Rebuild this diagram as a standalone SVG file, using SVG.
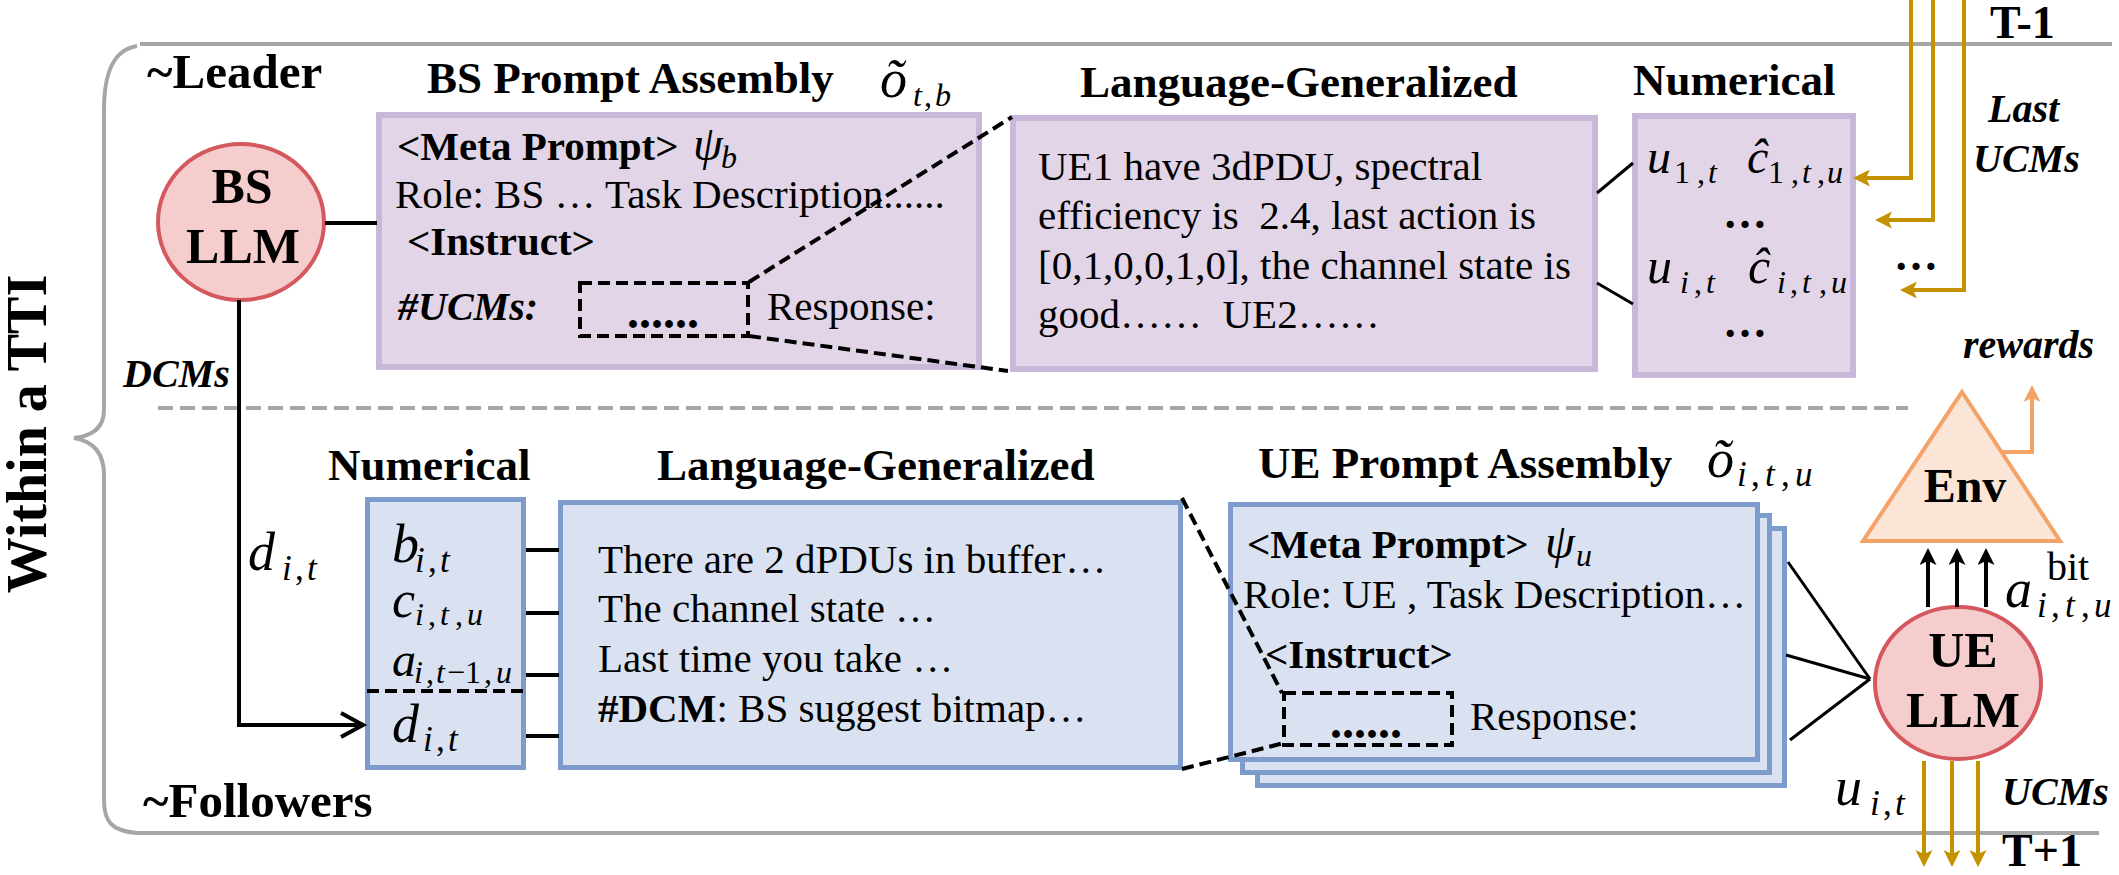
<svg xmlns="http://www.w3.org/2000/svg" width="2119" height="875" viewBox="0 0 2119 875">
<style>
text{font-family:"Liberation Serif","Times New Roman",serif;fill:#000}
.h{font-size:45px;font-weight:bold}
.big{font-size:49px;font-weight:bold}
.llmt{font-size:50px;font-weight:bold}
.b{font-size:41px}
.bb{font-size:41px;font-weight:bold}
.bi{font-size:40px;font-weight:bold;font-style:italic}
.mi{font-style:italic}
.up{font-style:normal}
.s{font-size:32px}
.s2{font-size:35px}
.dots{font-size:48px;font-weight:bold}
.el{font-size:44px;font-weight:bold}
.purple{fill:#e1d5e7;stroke:#c8b7d8;stroke-width:6}
.blue{fill:#dae2f2;stroke:#7e9ccb;stroke-width:5}
.llm{fill:#f6cdcd;stroke:#d4585e;stroke-width:4}
.ln{stroke:#000;stroke-width:4;fill:none}
.thin{stroke:#000;stroke-width:3;fill:none}
.zoom{stroke:#000;stroke-width:4;fill:none;stroke-dasharray:12 6}
.gold{stroke:#c49100;stroke-width:4;fill:none}
.gray{stroke:#a6a6a6;stroke-width:4;fill:none}
.orange{stroke:#f4a368;stroke-width:4;fill:none}
</style>
<defs>
<marker id="ag" markerUnits="userSpaceOnUse" markerWidth="18" markerHeight="18" refX="4" refY="8.5" orient="auto"><path d="M0,0 L17,8.5 L0,17 L4,8.5 z" fill="#c49100"/></marker>
<marker id="ab" markerUnits="userSpaceOnUse" markerWidth="18" markerHeight="18" refX="4" refY="8.5" orient="auto"><path d="M0,0 L17,8.5 L0,17 L4,8.5 z" fill="#000"/></marker>
<marker id="ao" markerUnits="userSpaceOnUse" markerWidth="18" markerHeight="18" refX="4" refY="8.5" orient="auto"><path d="M0,0 L17,8.5 L0,17 L4,8.5 z" fill="#f4a368"/></marker>
<marker id="ch" markerUnits="userSpaceOnUse" markerWidth="30" markerHeight="30" refX="24" refY="13" orient="auto" overflow="visible"><path d="M2,1 L24,13 L2,25" fill="none" stroke="#000" stroke-width="4"/></marker>
</defs>

<!-- frame -->
<g id="frame">
<line class="gray" x1="140" y1="44" x2="2112" y2="44"/>
<line class="gray" x1="137" y1="833" x2="2099" y2="833"/>
<path class="gray" d="M137,46 C112,50 104,75 104,110 L104,410 C104,428 92,436 74,438 C92,441 104,452 104,475 L104,800 C104,822 112,831 137,833"/>
<line class="gray" x1="158" y1="408" x2="1908" y2="408" stroke-dasharray="15 7"/>
<text transform="translate(46,434) rotate(-90)" text-anchor="middle" font-size="56" font-weight="bold">Within a TTI</text>
<text class="big" x="147" y="88">~Leader</text>
<text class="big" x="143" y="817">~Followers</text>
<text x="1990" y="38" font-size="46" font-weight="bold">T-1</text>
<text x="2002" y="866" font-size="46" font-weight="bold">T+1</text>
</g>

<!-- BS LLM -->
<g id="bs-llm">
<ellipse class="llm" cx="241" cy="222" rx="83" ry="78"/>
<text class="llmt" x="242" y="203" text-anchor="middle">BS</text>
<text class="llmt" x="243" y="263" text-anchor="middle">LLM</text>
</g>

<!-- BS Prompt Assembly -->
<g id="bs-prompt">
<text class="h" x="427" y="93">BS Prompt Assembly</text>
<text class="mi" font-size="54"><tspan x="880" y="97">õ</tspan><tspan class="s" x="913" y="106">t</tspan><tspan class="s up" x="924" y="106">,</tspan><tspan class="s" x="935" y="106">b</tspan></text>
<rect class="purple" x="379" y="115" width="600" height="252"/>
<text class="bb" x="397" y="160">&lt;Meta Prompt&gt;</text>
<text class="mi" font-size="48"><tspan x="693" y="160">ψ</tspan><tspan class="s" x="721" y="168">b</tspan></text>
<text class="b" x="395" y="208">Role: BS … Task Description......</text>
<text class="bb" x="407" y="255">&lt;Instruct&gt;</text>
<text class="bi" x="398" y="320" font-size="41">#UCMs:</text>
<rect x="580" y="283" width="168" height="53" fill="none" stroke="#000" stroke-width="4" stroke-dasharray="12 6"/>
<text class="dots" x="627" y="328">......</text>
<text class="b" x="767" y="320">Response:</text>
</g>

<!-- top language generalized -->
<g id="bs-lang">
<text class="h" x="1080" y="97">Language-Generalized</text>
<rect class="purple" x="1013" y="118" width="582" height="251"/>
<text class="b" x="1038" y="180" style="white-space:pre">UE1 have 3dPDU, spectral</text>
<text class="b" x="1038" y="229" style="white-space:pre">efficiency is  2.4, last action is</text>
<text class="b" x="1038" y="279" style="white-space:pre">[0,1,0,0,1,0], the channel state is</text>
<text class="b" x="1038" y="328" style="white-space:pre">good……  UE2……</text>
</g>

<!-- top numerical -->
<g id="bs-num">
<text class="h" x="1633" y="95">Numerical</text>
<rect class="purple" x="1635" y="116" width="218" height="259"/>
<text class="mi" font-size="48"><tspan x="1647" y="173">u</tspan><tspan class="s up" x="1674" y="183">1</tspan><tspan class="s up" x="1697" y="183">,</tspan><tspan class="s" x="1708" y="183">t</tspan><tspan x="1747" y="173">ĉ</tspan><tspan class="s up" x="1768" y="183">1</tspan><tspan class="s up" x="1791" y="183">,</tspan><tspan class="s" x="1802" y="183">t</tspan><tspan class="s up" x="1817" y="183">,</tspan><tspan class="s" x="1827" y="183">u</tspan></text>
<text class="el" x="1745" y="228" text-anchor="middle">…</text>
<text class="mi" font-size="50"><tspan x="1647" y="283">u</tspan><tspan class="s" x="1680" y="293">i</tspan><tspan class="s up" x="1694" y="293">,</tspan><tspan class="s" x="1706" y="293">t</tspan><tspan x="1748" y="283">ĉ</tspan><tspan class="s" x="1777" y="293">i</tspan><tspan class="s up" x="1790" y="293">,</tspan><tspan class="s" x="1802" y="293">t</tspan><tspan class="s up" x="1819" y="293">,</tspan><tspan class="s" x="1831" y="293">u</tspan></text>
<text class="el" x="1745" y="337" text-anchor="middle">…</text>
</g>

<!-- lower numerical -->
<g id="ue-num">
<text class="h" x="328" y="480">Numerical</text>
<rect class="blue" x="367.5" y="499.5" width="156" height="268"/>
<text class="mi" font-size="54"><tspan x="392" y="562">b</tspan><tspan class="s2" x="415" y="572">i</tspan><tspan class="s2 up" x="428" y="572">,</tspan><tspan class="s2" x="440" y="572">t</tspan></text>
<text class="mi" font-size="52"><tspan x="392" y="617">c</tspan><tspan class="s" x="415" y="625">i</tspan><tspan class="s up" x="428" y="625">,</tspan><tspan class="s" x="440" y="625">t</tspan><tspan class="s up" x="455" y="625">,</tspan><tspan class="s" x="467" y="625">u</tspan></text>
<text class="mi" font-size="48"><tspan x="392" y="676">a</tspan><tspan class="s" x="414" y="683">i</tspan><tspan class="s up" x="426" y="683">,</tspan><tspan class="s" x="436" y="683">t</tspan><tspan class="s up" x="447" y="683">−1</tspan><tspan class="s up" x="484" y="683">,</tspan><tspan class="s" x="496" y="683">u</tspan></text>
<line x1="367" y1="691" x2="524" y2="691" stroke="#000" stroke-width="4" stroke-dasharray="12 6"/>
<text class="mi" font-size="54"><tspan x="392" y="742">d</tspan><tspan class="s2" x="423" y="751">i</tspan><tspan class="s2 up" x="436" y="751">,</tspan><tspan class="s2" x="448" y="751">t</tspan></text>
</g>

<!-- lower language generalized -->
<g id="ue-lang">
<text class="h" x="657" y="480">Language-Generalized</text>
<rect class="blue" x="560.5" y="502.5" width="620" height="265"/>
<text class="b" x="598" y="573">There are 2 dPDUs in buffer…</text>
<text class="b" x="598" y="622">The channel state …</text>
<text class="b" x="598" y="672">Last time you take …</text>
<text class="b" x="598" y="722"><tspan font-weight="bold">#DCM</tspan>: BS suggest bitmap…</text>
</g>

<!-- UE prompt assembly -->
<g id="ue-prompt">
<text class="h" x="1258" y="478">UE Prompt Assembly</text>
<text class="mi" font-size="54"><tspan x="1707" y="477">õ</tspan><tspan class="s2" x="1737" y="486">i</tspan><tspan class="s2 up" x="1751" y="486">,</tspan><tspan class="s2" x="1765" y="486">t</tspan><tspan class="s2 up" x="1781" y="486">,</tspan><tspan class="s2" x="1795" y="486">u</tspan></text>
<rect class="blue" x="1257.5" y="528.5" width="527" height="257"/>
<rect class="blue" x="1242.5" y="515.5" width="527" height="257"/>
<rect class="blue" x="1230.5" y="504.5" width="527" height="255"/>
<text class="bb" x="1247" y="558">&lt;Meta Prompt&gt;</text>
<text class="mi" font-size="48"><tspan x="1545" y="558">ψ</tspan><tspan class="s" x="1576" y="566">u</tspan></text>
<text class="b" x="1243" y="608">Role: UE , Task Description…</text>
<text class="bb" x="1265" y="668">&lt;Instruct&gt;</text>
<rect x="1284" y="693" width="168" height="52" fill="none" stroke="#000" stroke-width="4" stroke-dasharray="12 6"/>
<text class="dots" x="1330" y="738">......</text>
<text class="b" x="1470" y="730">Response:</text>
</g>

<!-- Env -->
<g id="env">
<polygon points="1962,392 2060,541 1863,541" fill="#fbe5d6" stroke="#f4a368" stroke-width="4" stroke-linejoin="miter"/>
<text x="1965" y="502" text-anchor="middle" font-size="48" font-weight="bold">Env</text>
</g>

<!-- UE LLM -->
<g id="ue-llm">
<ellipse class="llm" cx="1958" cy="683" rx="83" ry="76"/>
<text class="llmt" x="1963" y="667" text-anchor="middle">UE</text>
<text class="llmt" x="1963" y="727" text-anchor="middle">LLM</text>
</g>

<!-- connectors -->
<g id="connectors">
<line class="ln" x1="325" y1="223" x2="377" y2="223"/>
<path class="ln" d="M239,300 V725 H363" marker-end="url(#ch)"/>
<text class="bi" x="123" y="387">DCMs</text>
<text class="mi" font-size="54"><tspan x="248" y="570">d</tspan><tspan class="s2" x="282" y="580">i</tspan><tspan class="s2 up" x="295" y="580">,</tspan><tspan class="s2" x="307" y="580">t</tspan></text>

<line class="zoom" x1="749" y1="282" x2="1012" y2="117"/>
<line class="zoom" x1="749" y1="336" x2="1008" y2="371"/>
<line class="thin" x1="1597" y1="193" x2="1633" y2="163"/>
<line class="thin" x1="1597" y1="283" x2="1633" y2="304"/>

<path class="gold" d="M1911,0 V178 H1866" marker-end="url(#ag)"/>
<path class="gold" d="M1933,0 V220 H1888" marker-end="url(#ag)"/>
<path class="gold" d="M1964,0 V290 H1913" marker-end="url(#ag)"/>
<text class="el" x="1916" y="270" text-anchor="middle">…</text>
<text class="bi" x="1988" y="122">Last</text>
<text class="bi" x="1973" y="172">UCMs</text>
<text class="bi" x="1963" y="358">rewards</text>

<line class="ln" x1="526" y1="550" x2="559" y2="550"/>
<line class="ln" x1="526" y1="613" x2="559" y2="613"/>
<line class="ln" x1="526" y1="675" x2="559" y2="675"/>
<line class="ln" x1="526" y1="736" x2="559" y2="736"/>

<line class="zoom" x1="1182" y1="498" x2="1282" y2="693"/>
<line class="zoom" x1="1182" y1="769" x2="1284" y2="743"/>

<line class="thin" x1="1788" y1="562" x2="1870" y2="679"/>
<line class="thin" x1="1786" y1="655" x2="1870" y2="679"/>
<line class="thin" x1="1790" y1="740" x2="1870" y2="679"/>

<line class="ln" x1="1928" y1="607" x2="1928" y2="561" stroke-width="3.5" marker-end="url(#ab)"/>
<line class="ln" x1="1957" y1="607" x2="1957" y2="561" stroke-width="3.5" marker-end="url(#ab)"/>
<line class="ln" x1="1986" y1="607" x2="1986" y2="561" stroke-width="3.5" marker-end="url(#ab)"/>
<text class="mi" font-size="54"><tspan x="2005" y="607">a</tspan><tspan class="up" font-size="40" x="2047" y="580">bit</tspan><tspan class="s2" x="2037" y="617">i</tspan><tspan class="s2 up" x="2051" y="617">,</tspan><tspan class="s2" x="2065" y="617">t</tspan><tspan class="s2 up" x="2081" y="617">,</tspan><tspan class="s2" x="2094" y="617">u</tspan></text>

<path class="orange" d="M2002,452 H2032 V398" marker-end="url(#ao)"/>

<line class="gold" x1="1924" y1="761" x2="1924" y2="854" marker-end="url(#ag)"/>
<line class="gold" x1="1952" y1="761" x2="1952" y2="854" marker-end="url(#ag)"/>
<line class="gold" x1="1978" y1="761" x2="1978" y2="854" marker-end="url(#ag)"/>
<text class="mi" font-size="54"><tspan x="1835" y="805">u</tspan><tspan class="s2" x="1870" y="815">i</tspan><tspan class="s2 up" x="1883" y="815">,</tspan><tspan class="s2" x="1895" y="815">t</tspan></text>
<text class="bi" x="2002" y="805">UCMs</text>
</g>
</svg>
